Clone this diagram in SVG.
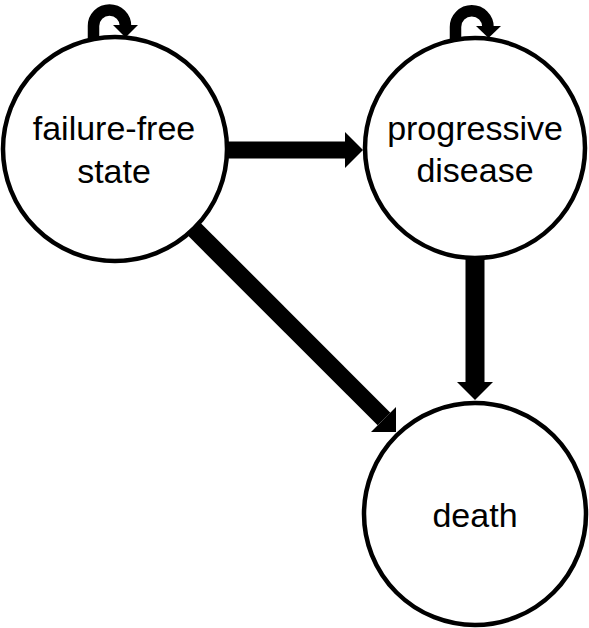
<svg xmlns="http://www.w3.org/2000/svg" width="589" height="628" viewBox="0 0 589 628">
<style>
.node circle{fill:#fff;stroke:#000;stroke-width:4.5}
.node text{font-family:"Liberation Sans",Arial,sans-serif;font-size:34px;fill:#000;text-anchor:middle}
.shaft{stroke:#000;fill:none}
.head{fill:#000}
</style>
<rect width="589" height="628" fill="#fff"/>
<g id="connectors">
  <!-- failure-free -> progressive -->
  <path class="shaft" d="M225,150 H346" stroke-width="17"/>
  <polygon class="head" points="345,132 363,150 345,168"/>
  <!-- progressive -> death -->
  <path class="shaft" d="M475,257 V383" stroke-width="19"/>
  <polygon class="head" points="457,382 493,382 475,400"/>
  <!-- failure-free -> death -->
  <path class="shaft" d="M193,228 L384,419" stroke-width="18"/>
  <polygon class="head" points="396,432 396,407 371,432"/>
  <!-- self loop failure-free -->
  <path class="shaft" d="M93.5,41 V26 A16,16 0 0 1 125.5,26" stroke-width="11.5"/>
  <polygon class="head" points="113,25 138,25 125.5,37.5"/>
  <!-- self loop progressive -->
  <path class="shaft" d="M455.5,41 V27 A16.25,16.25 0 0 1 488,27" stroke-width="11.5"/>
  <polygon class="head" points="476,26 501,26 488.5,38"/>
</g>
<g id="node-failure-free" class="node">
  <circle cx="115" cy="149" r="112"/>
  <text x="114" y="140">failure-free</text>
  <text x="114" y="183">state</text>
</g>
<g id="node-progressive" class="node">
  <circle cx="475" cy="148" r="110"/>
  <text x="475" y="140">progressive</text>
  <text x="475" y="182">disease</text>
</g>
<g id="node-death" class="node">
  <circle cx="475" cy="514" r="111"/>
  <text x="475" y="527">death</text>
</g>
</svg>
